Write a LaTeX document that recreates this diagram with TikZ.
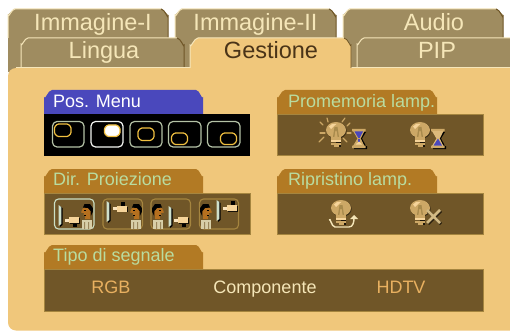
\documentclass[tikz,border=0pt]{standalone}
\usepackage{fontspec}
\setmainfont{Liberation Sans}
\definecolor{tabc}{HTML}{9F8C60}
\definecolor{tabhi}{HTML}{F6E6BA}
\definecolor{tabdk}{HTML}{6E5526}
\definecolor{pan}{HTML}{F0C77B}
\definecolor{head}{HTML}{B27A24}
\definecolor{body}{HTML}{705628}
\definecolor{bodyedge}{HTML}{A5853F}
\definecolor{blu}{HTML}{4A48BC}
\definecolor{grn}{HTML}{B9DCA0}
\definecolor{scr}{HTML}{B4C2A6}
\definecolor{ylw}{HTML}{F0C040}
\definecolor{orng}{HTML}{E8B060}
\definecolor{cream}{HTML}{F5E6B8}
\definecolor{dtxt}{HTML}{4A3418}
\definecolor{bulb}{HTML}{CDA866}
\definecolor{bulbd}{HTML}{A88A4C}
\definecolor{peach}{HTML}{F6D49A}
\definecolor{skin}{HTML}{B5701F}
\definecolor{shirt}{HTML}{D8CFA8}
\definecolor{barc}{HTML}{CFE0CC}
\tikzset{x=1pt,y=-1pt,
  tabtxt/.style={font=\fontsize{23.5}{24}\selectfont,anchor=base,inner sep=0pt,text=cream},
  pantxt/.style={font=\fontsize{18}{20}\selectfont,anchor=base,inner sep=0pt},
  headtxt/.style={pantxt,anchor=base west,text=grn},
  scrbox/.style={draw=scr,line width=1.2pt,rounded corners=1.5pt},
  spot/.style={draw=ylw,line width=1.2pt,rounded corners=1pt},
  btn/.style={draw=bodyedge,line width=1.1pt,rounded corners=4pt},
  ray/.style={draw=bulb,line width=1.2pt,line cap=round}}
\newcommand{\tabshape}[5]{%
  \fill[#5] (#1,#4) -- (#1,#3+6) -- (#1+6,#3) -- (#2-6,#3) -- (#2,#3+6) -- (#2,#4) -- cycle;}
\newcommand{\tabedge}[4]{%
  \draw[tabhi,line width=1pt] (#1,#4) -- (#1,#3+6) to[out=-80,in=180] (#1+7,#3) -- (#2-7,#3);
  \draw[tabdk,line width=1pt] (#2-7,#3) to[out=0,in=-90] (#2,#3+7) -- (#2,#4);}
\newcommand{\panelhead}[4]{%
  \fill[#4] (#1,#2+24) -- (#1,#2+7) to[out=-75,in=180] (#1+8,#2) -- (#3-7,#2) to[out=0,in=-105] (#3,#2+7) -- (#3,#2+24) -- cycle;}
\newcommand{\lamp}[2]{%
  \begin{scope}[shift={(#1,#2)}]
    \fill[black!75!body] (0,9) rectangle (5.3,17.3);
    \fill[black!50!body] (0.7,.7) ellipse (10 and 8.2);
    \fill[bulb] (0,0) ellipse (10 and 8);
    \fill[peach] (-7,-3.5) arc (200:290:6 and 4.5) -- (-2,-4) -- (-5,-1) -- cycle;
    \fill[bulbd] (-1.5,-3) -- (1.5,-3) -- (3,7) -- (-3,7) -- cycle;
    \fill[bulb] (-.6,1) -- (.6,1) -- (1.6,7) -- (-1.6,7) -- cycle;
    \fill[bulb] (-5,7) rectangle (4.5,9.6);
    \fill[peach] (-5,10.1) rectangle (4.5,12);
    \fill[bulb] (-5,12.5) rectangle (4.5,14.6);
    \fill[bulb] (-2.5,14.6) rectangle (3,16.8);
  \end{scope}}
\newcommand{\glassframe}{%
  \fill[black] (-5,17) rectangle (8,20) (5,3) -- (7,3) -- (3,9.5) -- (7,17) -- (5,17) -- (2,9.5) -- cycle;
  \fill[bulb] (-7,0) rectangle (6.5,2.5) (-7,16.5) rectangle (6.5,19);}
\newcommand{\glassA}[2]{%
  \begin{scope}[shift={(#1,#2)}]
    \glassframe
    \fill[bulb] (-6,2) -- (5.5,2) -- (1.6,9.5) -- (5.5,17) -- (-6,17) -- (-1.6,9.5) -- cycle;
    \fill[blu] (-4.5,2.5) -- (4,2.5) -- (0.7,9) -- (-.7,9) -- cycle;
    \fill[blu] (-.6,10) rectangle (.5,13);
    \fill[peach] (-3.5,15.5) -- (3,15.5) -- (0,12.5) -- cycle;
  \end{scope}}
\newcommand{\glassB}[2]{%
  \begin{scope}[shift={(#1,#2)}]
    \glassframe
    \fill[bulb!60!peach] (-6,2) -- (5.5,2) -- (1.6,9.5) -- (5.5,17) -- (-6,17) -- (-1.6,9.5) -- cycle;
    \fill[blu] (-4.5,16.5) -- (4,16.5) -- (0,9.5) -- cycle;
  \end{scope}}
\newcommand{\person}[3]{%
  \begin{scope}[shift={(#1,#2)},xscale=#3]
    \fill[shirt] (-5,15.5) rectangle (5,25);
    \fill[body!60!shirt] (-3,18) rectangle (-2,25) (1,18) rectangle (2,25);
    \fill[skin] (-2,15) -- (3,15) -- (3,8) -- (-1,8) -- cycle;
    \fill[skin] (-4,4) -- (4,3) -- (4,11) -- (-1,13) -- (-3.5,11.5) -- (-3,9) -- (-6,8.5) -- cycle;
    \fill[black] (-4,3.5) -- (-2.5,0) -- (3,0) -- (5.8,4) -- (5.8,8) -- (3.8,12) -- (3.5,7) -- (1,4) -- cycle;
    \fill[black] (-2.6,6) rectangle (-1.4,7);
    \fill[black] (-3,11) rectangle (-1,11.7);
  \end{scope}}
\newcommand{\projector}[3]{%
  \begin{scope}[shift={(#1,#2)}]
    \ifnum#3=1 \fill[black] (.5,-7) rectangle (5,-2.5); \else \fill[black] (1,3) rectangle (5,6.5); \fi
    \fill[black!80!body] (-2.5,-2) rectangle (7.6,3.7);
    \fill[peach] (-3,-3) rectangle (7,3);
    \fill[peach!65!white] (-7,-1.5) rectangle (-3,1.5);
  \end{scope}}
\newcommand{\screenbar}[2]{%
  \fill[black] (#1+1.5,#2+1) -- (#1+4,#2+3) -- (#1+4,#2+20) -- (#1+1.5,#2+22) -- cycle;
  \fill[barc] (#1,#2) -- (#1+2.8,#2+2) -- (#1+2.8,#2+19) -- (#1,#2+21) -- cycle;}
\newcommand{\octa}[5]{%
  \draw[#5] (#1+3,#2) -- (#3-3,#2) -- (#3,#2+3) -- (#3,#4-3) -- (#3-3,#4) -- (#1+3,#4) -- (#1,#4-3) -- (#1,#2+3) -- cycle;}
\begin{document}
\begin{tikzpicture}
\useasboundingbox (0,0) rectangle (510,331);
\fill[white] (0,0) rectangle (510,331);
% back tabs
\tabshape{8}{168}{9}{72}{tabc}\tabedge{8}{168}{9}{38}
\tabshape{175}{336}{9}{72}{tabc}\tabedge{175}{336}{9}{38}
\tabshape{343}{503}{9}{72}{tabc}\tabedge{343}{503}{9}{38}
% front inactive tabs
\tabshape{21}{184}{38}{68}{tabc}\tabedge{21}{184}{38}{68}
\tabshape{357}{530}{38}{68}{tabc}\tabedge{357}{530}{38}{68}
% main panel
\begin{scope}
\clip (0,0) rectangle (510,331);
\fill[pan,rounded corners=8pt] (8,330.5) -- (8,68) -- (530,68) -- (530,330.5) -- cycle;
\end{scope}
\draw[tabhi,line width=1pt] (16,68) -- (190,68) (351,68) -- (510,68);
% active tab
\fill[pan] (190,70) -- (190,45) to[out=-80,in=180] (198,38) -- (344,38) to[out=0,in=-90] (351,45) -- (351,70) -- cycle;
\draw[tabhi,line width=1pt] (190,68) -- (190,45) to[out=-80,in=180] (198,38) -- (344,38);
\draw[tabdk,line width=.8pt] (344,38) to[out=0,in=-90] (351,45) -- (351,68);
% tab labels
\node[tabtxt] (t1) at (93,31) {Immagine-I};
\node[tabtxt] (t2) at (255.5,31) {Immagine-II};
\node[tabtxt] (t3) at (434,31) {Audio};
\node[tabtxt] (t4) at (104,59) {Lingua};
\node[tabtxt,text=dtxt] (t5) at (271,59) {Gestione};
\node[tabtxt] (t6) at (437,59) {PIP};
% panels
\panelhead{44}{90}{203}{blu}
\fill[black] (44,114) rectangle (250,155.5);
\panelhead{277}{90}{437}{head}
\fill[body,draw=bodyedge,line width=.6pt] (277.3,114) rectangle (483.3,155.5);
\panelhead{44}{169}{203}{head}
\fill[body,draw=bodyedge,line width=.6pt] (44.3,193) rectangle (250,234.5);
\panelhead{277}{169}{437}{head}
\fill[body,draw=bodyedge,line width=.6pt] (277.3,193) rectangle (483.3,234.5);
\panelhead{44}{245}{203}{head}
\fill[body,draw=bodyedge,line width=.6pt] (44.3,269) rectangle (483.3,311);
% headings
\node[headtxt,text=white] (h1) at (53,108) {Pos. Menu};
\node[headtxt] (h2) at (288,108) {Promemoria lamp.};
\node[headtxt] (h3) at (53,185) {Dir. Proiezione};
\node[headtxt] (h4) at (288,185) {Ripristino lamp.};
\node[headtxt] (h5) at (53,261) {Tipo di segnale};
% position screens
\octa{52.5}{121.5}{84}{147}{scrbox}
\octa{91}{121.5}{123}{147}{scrbox,draw=white!85!scr}
\octa{130}{121.5}{162}{147}{scrbox}
\octa{168.5}{121.5}{201}{147}{scrbox}
\octa{207.5}{121.5}{240}{147}{scrbox}
\octa{54.5}{124}{71}{136.5}{spot}
\octa{104.5}{125}{120}{136.5}{spot,fill=white}
\octa{138}{128}{154}{140.5}{spot}
\octa{171.5}{133}{187.5}{144.5}{spot}
\octa{220.5}{133}{236.5}{144.5}{spot}
% lamps, reminder
\foreach \a/\b/\c/\d in {320/122/323/125,327/118/328/122,345/118/342/122,350/123/347/126,320/133/325/133,319/142/324/137,347/133/351/133,347/142/343/138}
  \draw[ray] (\a,\b) -- (\c,\d);
\lamp{336}{130}
\glassA{359}{129}
\lamp{420}{130}
\glassB{438}{129}
% lamps, reset
\draw[cream,line width=1.4pt] (329,220) to[out=70,in=180] (335,227) -- (349,227) to[out=0,in=-90] (354,218);
\lamp{341}{208}
\fill[cream] (350,219) -- (354,215) -- (358,219) -- cycle;
\lamp{420}{208}
\draw[black!60!body,line width=3pt] (428,211) -- (441,224) (441,211) -- (428,224);
\draw[bulb!55!shirt,line width=2.5pt] (427,210) -- (440,223) (440,210) -- (427,223);
% projection buttons
\draw[btn,draw=barc!85!grn] (54.5,199) rectangle (94,229);
\draw[btn] (103,199) rectangle (142.5,229);
\draw[btn] (151,199) rectangle (190.5,229);
\draw[btn] (199.5,199) rectangle (238.5,229);
\screenbar{58.5}{205}
\projector{72}{220}{0}
\person{87}{204}{1}
\screenbar{106.5}{201}
\projector{120}{208.5}{1}
\person{136}{204}{1}
\screenbar{168.5}{206}
\projector{181}{220}{0}
\person{158}{204}{-1}
\screenbar{216.5}{200}
\projector{230}{208}{1}
\person{206}{204}{-1}
% signal options
\node[pantxt,text=orng] (s1) at (111,293) {RGB};
\node[pantxt,text=cream] (s2) at (265,293) {Componente};
\node[pantxt,text=orng] (s3) at (401,293) {HDTV};
\end{tikzpicture}
\end{document}
